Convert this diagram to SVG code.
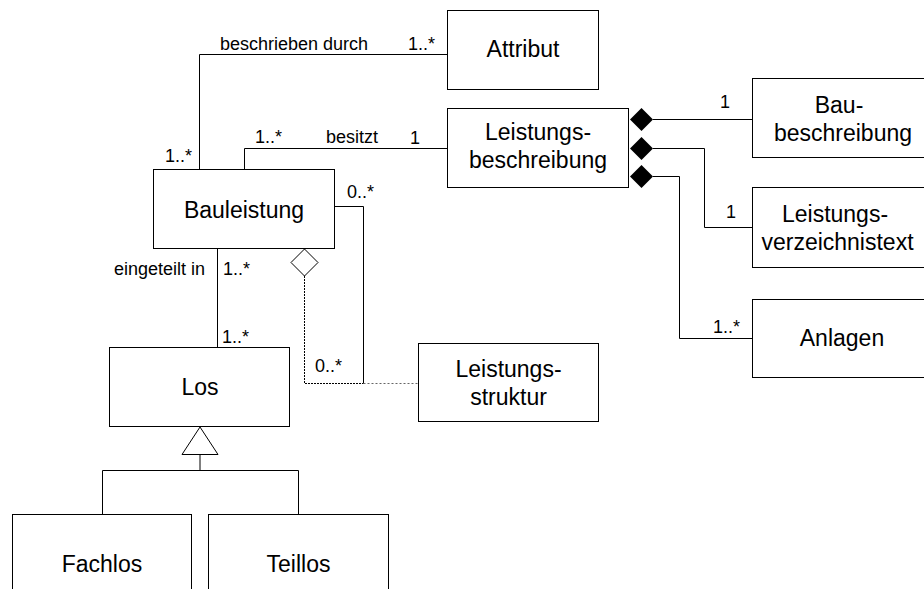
<svg xmlns="http://www.w3.org/2000/svg" width="924" height="589" viewBox="0 0 924 589">
<style>
.box{fill:#fff;stroke:#000;stroke-width:1}
.nt{font-family:"Liberation Sans",Arial,sans-serif;font-size:23px;fill:#000;text-anchor:middle}
.lb{font-family:"Liberation Sans",Arial,sans-serif;font-size:18px;fill:#000}
.ln{fill:none;stroke:#000;stroke-width:1}
.dot{fill:none;stroke:#000;stroke-width:1;stroke-dasharray:2,1}
.dot2{fill:none;stroke:#666;stroke-width:1;stroke-dasharray:2,2}
</style>
<rect width="924" height="589" fill="#fff"/>
<g id="connectors">
  <polyline class="ln" points="199.5,169 199.5,54.5 447,54.5"/>
  <polyline class="ln" points="244.5,169 244.5,148.5 447,148.5"/>
  <polyline class="ln" points="653,119.5 752,119.5"/>
  <polyline class="ln" points="653,148.5 704.5,148.5 704.5,227.5 752,227.5"/>
  <polyline class="ln" points="653,176.5 679.5,176.5 679.5,338.5 752,338.5"/>
  <polygon points="630,119.5 641.5,108 653,119.5 641.5,131" fill="#000"/>
  <polygon points="630,148.5 641.5,137 653,148.5 641.5,160" fill="#000"/>
  <polygon points="630,176.5 641.5,165 653,176.5 641.5,188" fill="#000"/>
  <line class="ln" x1="217.5" y1="249" x2="217.5" y2="347"/>
  <polyline class="ln" points="335,206.5 363.5,206.5 363.5,383.5"/>
  <polyline class="dot" points="304.5,276 304.5,383.5 363.5,383.5"/>
  <line class="dot2" x1="363.5" y1="383.5" x2="418" y2="383.5"/>
  <polygon points="291,262.5 304.5,249 318,262.5 304.5,276" fill="#fff" stroke="#000" stroke-width="1"/>
  <polygon points="200,427 182,454.5 218,454.5" fill="#fff" stroke="#000" stroke-width="1"/>
  <line class="ln" x1="200" y1="454.5" x2="200" y2="470.5"/>
  <polyline class="ln" points="102.5,514 102.5,470.5 298.5,470.5 298.5,514"/>
  <text class="lb" x="220" y="50">beschrieben durch</text>
  <text class="lb" x="408" y="50">1..*</text>
  <text class="lb" x="165" y="162">1..*</text>
  <text class="lb" x="255" y="143">1..*</text>
  <text class="lb" x="326" y="143">besitzt</text>
  <text class="lb" x="410" y="144">1</text>
  <text class="lb" x="347" y="198">0..*</text>
  <text class="lb" x="205" y="275" text-anchor="end">eingeteilt in</text>
  <text class="lb" x="223" y="275">1..*</text>
  <text class="lb" x="222" y="343">1..*</text>
  <text class="lb" x="315" y="372">0..*</text>
  <text class="lb" x="720" y="108">1</text>
  <text class="lb" x="726" y="218">1</text>
  <text class="lb" x="713" y="333">1..*</text>
</g>
<g id="attribut">
  <rect class="box" x="447.5" y="10.5" width="151" height="79"/>
  <text class="nt" x="523" y="57">Attribut</text>
</g>
<g id="leistungsbeschreibung">
  <rect class="box" x="447.5" y="108.5" width="181" height="79"/>
  <text class="nt" x="538" y="140">Leistungs-</text>
  <text class="nt" x="538" y="168">beschreibung</text>
</g>
<g id="bauleistung">
  <rect class="box" x="153.5" y="169.5" width="181" height="79"/>
  <text class="nt" x="244" y="218">Bauleistung</text>
</g>
<g id="los">
  <rect class="box" x="109.5" y="347.5" width="180" height="79"/>
  <text class="nt" x="200" y="395">Los</text>
</g>
<g id="fachlos">
  <rect class="box" x="12.5" y="514.5" width="179" height="90"/>
  <text class="nt" x="102" y="572">Fachlos</text>
</g>
<g id="teillos">
  <rect class="box" x="208.5" y="514.5" width="180" height="90"/>
  <text class="nt" x="298.5" y="572">Teillos</text>
</g>
<g id="leistungsstruktur">
  <rect class="box" x="418.5" y="343.5" width="180" height="78"/>
  <text class="nt" x="508.5" y="377">Leistungs-</text>
  <text class="nt" x="508.5" y="405">struktur</text>
</g>
<g id="baubeschreibung">
  <rect class="box" x="752.5" y="78.5" width="190" height="79"/>
  <text class="nt" x="839" y="113">Bau-</text>
  <text class="nt" x="843" y="141">beschreibung</text>
</g>
<g id="leistungsverzeichnistext">
  <rect class="box" x="752.5" y="187.5" width="190" height="80"/>
  <text class="nt" x="835" y="222">Leistungs-</text>
  <text class="nt" x="837.5" y="250">verzeichnistext</text>
</g>
<g id="anlagen">
  <rect class="box" x="752.5" y="299.5" width="190" height="78"/>
  <text class="nt" x="842" y="346">Anlagen</text>
</g>
</svg>
